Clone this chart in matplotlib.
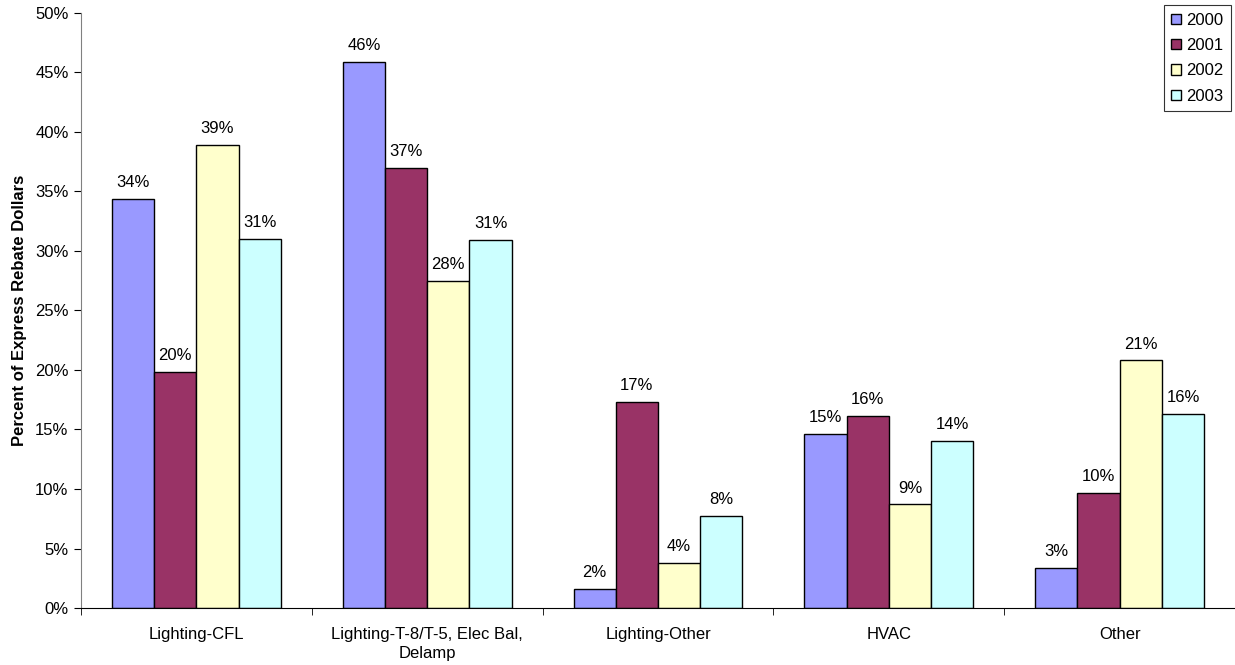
import numpy as np
import matplotlib
matplotlib.use("Agg")
import matplotlib.pyplot as plt
from matplotlib.ticker import FixedLocator, FuncFormatter

plt.rcParams['font.family'] = ['Liberation Sans', 'DejaVu Sans']

categories = ["Lighting-CFL", "Lighting-T-8/T-5, Elec Bal,\nDelamp", "Lighting-Other", "HVAC", "Other"]
years = ["2000", "2001", "2002", "2003"]
v2000 = [34.4, 45.9, 1.6, 14.6, 3.4]
v2001 = [19.8, 37.0, 17.3, 16.1, 9.7]
v2002 = [38.9, 27.5, 3.8, 8.7, 20.8]
v2003 = [31.0, 30.9, 7.7, 14.0, 16.3]
colors = ["#9999FF", "#993366", "#FFFFCC", "#CCFFFF"]

series = [v2000, v2001, v2002, v2003]

fig = plt.figure(figsize=(12.35, 6.65), dpi=100)
ax = fig.add_axes([0.0656, 0.0857, 0.9344, 0.8948])

x = np.arange(len(categories))
w = 0.183
for i, (vals, col, yr) in enumerate(zip(series, colors, years)):
    pos = x + (i - 1.5) * w
    ax.bar(pos, vals, width=w, color=col, edgecolor="black", linewidth=1.0, label=yr)
    for px, v in zip(pos, vals):
        ax.text(px, v + 0.75, f"{v:.0f}%", ha="center", va="bottom", fontsize=12)

ax.set_xlim(-0.5, len(categories) - 0.5)
ax.set_ylim(0, 50)
ax.set_yticks(np.arange(0, 51, 5))
ax.yaxis.set_major_formatter(FuncFormatter(lambda v, p: f"{v:.0f}%"))
ax.tick_params(axis="y", labelsize=12, length=5, direction="out", pad=4)

ax.set_xticks(x)
ax.set_xticklabels(categories, fontsize=12, linespacing=1.3)
ax.tick_params(axis="x", which="major", length=0, pad=14)
ax.xaxis.set_minor_locator(FixedLocator(np.arange(-0.5, len(categories), 1.0)))
ax.tick_params(axis="x", which="minor", length=5, direction="out")

ax.set_ylabel("Percent of Express Rebate Dollars", fontsize=12, fontweight="bold", labelpad=6)

for side in ["top", "right"]:
    ax.spines[side].set_visible(False)
ax.spines["left"].set_color("#808080")
ax.spines["bottom"].set_color("black")

leg = ax.legend(loc="upper right", bbox_to_anchor=(0.9965, 1.013), fontsize=12,
                frameon=True, fancybox=False, edgecolor="black", handlelength=0.6,
                handleheight=0.6, handletextpad=0.3, labelspacing=0.62, borderpad=0.45,
                borderaxespad=0.0)
leg.get_frame().set_linewidth(0.8)

fig.savefig("out.png", dpi=100)
